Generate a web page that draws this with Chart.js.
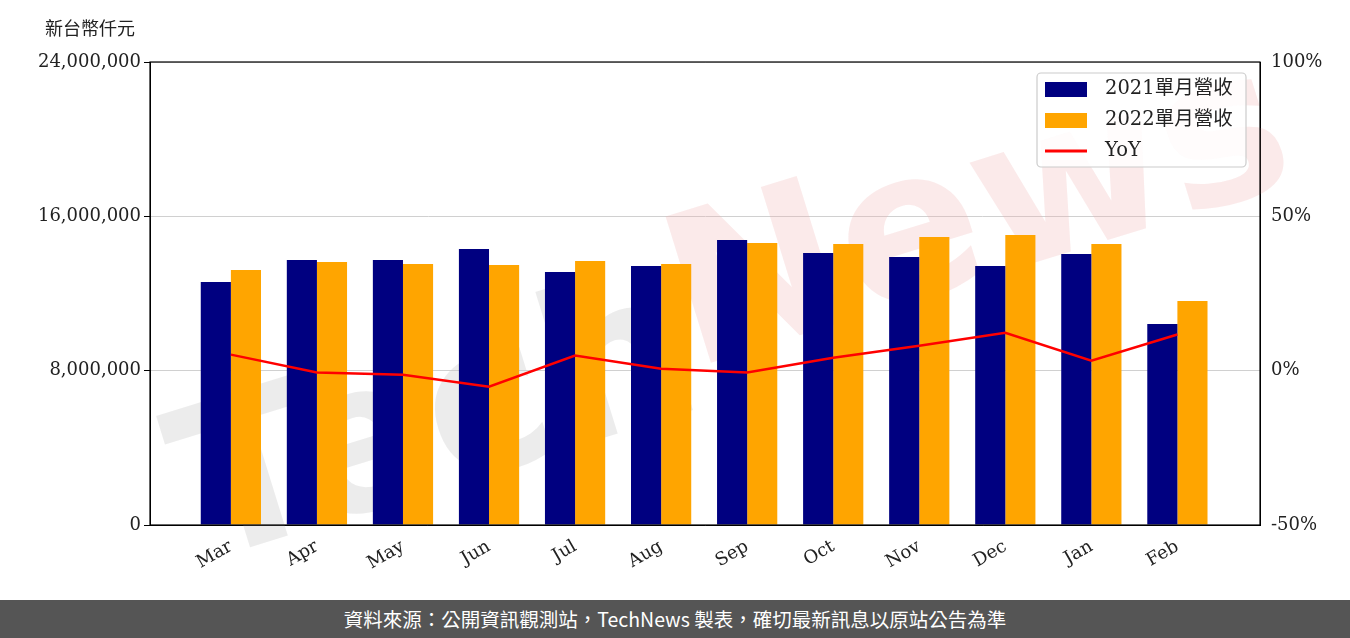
<!DOCTYPE html>
<html><head><meta charset="utf-8">
<script src="https://cdn.jsdelivr.net/npm/chart.js@4"></script>
<style>
body{margin:0;width:1350px;height:638px;overflow:hidden;background:#fff;font-family:"DejaVu Serif","Noto Sans CJK TC",serif}
#wrap{position:absolute;left:0;top:0;width:1350px;height:600px}
#foot{position:absolute;left:0;top:600px;width:1350px;height:38px;background:#555;color:#fff;font:19.5px "Noto Sans CJK TC","Noto Sans",sans-serif;text-align:center;line-height:38px}
#ylab{position:absolute;left:45px;top:14px;font:18px "Noto Sans CJK TC",sans-serif;color:#222}
</style></head><body>
<div id="wrap"><canvas id="c" width="1350" height="600"></canvas></div>
<div id="ylab">新台幣仟元</div>
<div id="foot">資料來源：公開資訊觀測站，TechNews 製表，確切最新訊息以原站公告為準</div>
<script>
const categories=["Mar","Apr","May","Jun","Jul","Aug","Sep","Oct","Nov","Dec","Jan","Feb"];
const rev2021=[12600000,13740000,13740000,14310000,13120000,13430000,14770000,14100000,13890000,13430000,14050000,10420000];
const rev2022=[13220000,13630000,13530000,13480000,13690000,13530000,14620000,14570000,14930000,15030000,14570000,11610000];
const yoy=[5.2,-0.6,-1.3,-5.2,4.9,0.6,-0.6,4.2,8.1,12.3,3.2,11.7];
const leftTicks=[0,8000000,16000000,24000000];
const rightTicks=[-50,0,50,100];
const names=["2021單月營收","2022單月營收","YoY"];
const F='"DejaVu Serif","Noto Sans CJK TC",serif';
const pts=a=>a.map((v,i)=>({x:i,y:v}));
const deco={id:'deco',
 beforeDatasetsDraw(ch){const c=ch.ctx;c.save();c.translate(700,330);c.rotate(-0.3);
  c.font='bold 210px "DejaVu Sans"';c.textAlign='center';c.textBaseline='middle';
  c.fillStyle='rgba(200,200,200,0.35)';c.fillText('Tech',-280,20);c.fillStyle='rgba(240,170,170,0.25)';c.fillText('News',300,-20);c.restore();},
 afterDraw(ch){const c=ch.ctx,a=ch.chartArea;c.save();c.strokeStyle='#000';c.lineWidth=1.2;c.strokeRect(a.left,a.top,a.right-a.left,a.bottom-a.top);
  const x=1037,y=73;c.fillStyle='rgba(255,255,255,0.85)';c.strokeStyle='#ccc';c.beginPath();c.roundRect(x,y,209,94,4);c.fill();c.stroke();
  const cols=['#000080','#FFA500','#FF0000'];c.font='19.5px '+F;c.textBaseline='middle';
  names.forEach((n,i)=>{const yy=y+16+i*31;c.fillStyle=cols[i];if(i<2)c.fillRect(x+8,yy-7,42,15);else{c.fillRect(x+8,yy-1.5,42,3);}c.fillStyle='#222';c.fillText(n,x+68,yy);});
  c.restore();}};
new Chart(document.getElementById('c'),{type:'bar',
data:{datasets:[
 {type:'line',label:names[2],data:pts(yoy),yAxisID:'y1',borderColor:'#FF0000',borderWidth:2.5,pointRadius:0,order:0},
 {label:names[0],data:pts(rev2021),backgroundColor:'#000080',yAxisID:'y',order:1},
 {label:names[1],data:pts(rev2022),backgroundColor:'#FFA500',yAxisID:'y',order:1}]},
options:{responsive:false,animation:false,parsing:true,layout:{padding:{top:62,left:0,right:0,bottom:0}},
 datasets:{bar:{categoryPercentage:0.7,barPercentage:1}},
 plugins:{legend:{display:false},tooltip:{enabled:false}},
 scales:{
  x:{type:'linear',offset:false,min:-0.94,max:11.96,afterBuildTicks(s){s.ticks=categories.map((c,i)=>({value:i}));},
   grid:{display:false},border:{color:'#000'},ticks:{color:'#222',font:{family:F,size:18},maxRotation:30,minRotation:30,callback:v=>categories[v]},afterFit(s){s.height=75;}},
  y:{min:0,max:24000000,afterBuildTicks(s){s.ticks=leftTicks.map(v=>({value:v}));},
   ticks:{color:'#222',font:{family:F,size:18},callback:v=>v.toLocaleString('en-US')},
   grid:{color:'#d0d0d0',drawTicks:true,tickColor:'#000',tickLength:6},border:{color:'#000'},afterFit(s){s.width=150;}},
  y1:{position:'right',min:-50,max:100,afterBuildTicks(s){s.ticks=rightTicks.map(v=>({value:v}));},
   ticks:{color:'#222',font:{family:F,size:18},callback:v=>v+'%'},grid:{display:false},border:{color:'#000'},afterFit(s){s.width=90;}}}},
plugins:[deco]});
</script></body></html>
